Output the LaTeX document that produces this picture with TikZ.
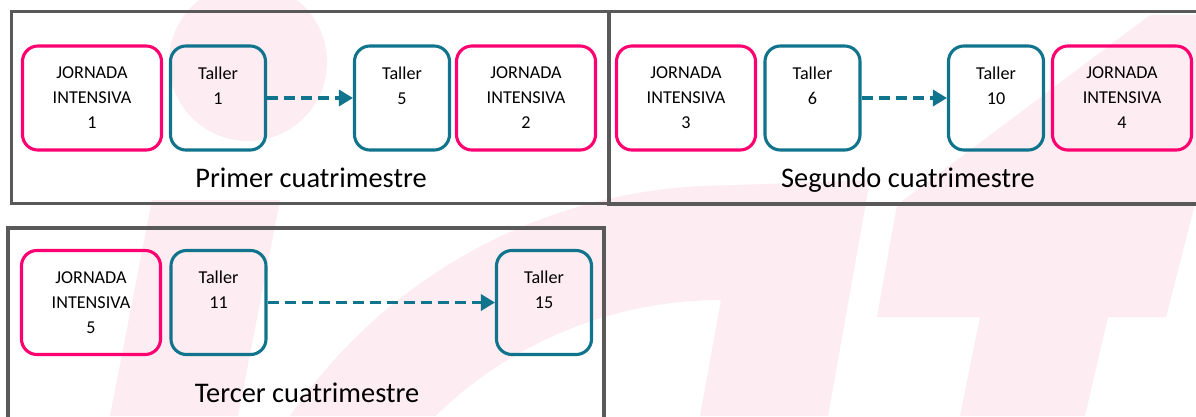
\documentclass[tikz,border=0pt]{standalone}
\usepackage{fontspec}
\setmainfont{Carlito}
\usepackage{tikz}
\usetikzlibrary{arrows.meta}
\definecolor{jornada}{RGB}{255,0,112}
\definecolor{taller}{RGB}{16,116,140}
\definecolor{marco}{RGB}{89,89,89}
\definecolor{marca}{RGB}{253,236,242}

\begin{document}
\begin{tikzpicture}[x=0.025cm,y=-0.025cm,
    jornada node/.style={draw=jornada,line width=2.2pt,rounded corners=11pt,minimum width=3.475cm,minimum height=2.6cm,inner sep=0pt,align=center,font=\fontsize{12.9}{17.8}\selectfont},
    taller node/.style={jornada node,draw=taller,minimum width=2.375cm}]
\tikzstyle{arrow} = [draw=taller,line width=2.2pt,dash pattern=on 7.8pt off 4.3pt,-{Triangle[length=10pt,width=11.5pt]}]
\tikzstyle{marco box} = [draw=marco,line width=2.8pt]
\tikzstyle{semester} = [anchor=base,font=\fontsize{20.2}{24}\selectfont]
\tikzstyle{watermark} = [fill=marca]

\clip (0,0) rectangle (1196,416);
\fill[white] (0,0) rectangle (1196,416);

\fill[watermark] (248,62) circle [radius=79];
\fill[watermark] (152,200) -- (280,200) -- (238,416) -- (110,416) -- cycle;
\fill[watermark] (290,416) arc [start angle=214.4, end angle=270, radius=530] -- (870,180) -- (828,416) -- (700,416) -- (721,300) arc [start angle=270, end angle=225.8, radius=410] -- cycle;
\fill[watermark] (1150,15) -- (1196,15) -- (1196,200) -- (1166,317) -- (1108,317) -- (1085,416) -- (960,416) -- (980,317) -- (877,317) -- (897,205) -- cycle;

\draw[marco box] (11.5,11.5) rectangle (609,203.5);
\draw[marco box] (609,11.5) rectangle (1210,204);
\draw[marco box] (8,228) rectangle (604,425);

\node (j1) at (92,98) [jornada node] {JORNADA\\INTENSIVA\\1};
\node (t1) at (218,98) [taller node] {Taller\\1\\~};
\node (t5) at (402,98) [taller node] {Taller\\5\\~};
\node (j2) at (526,98) [jornada node] {JORNADA\\INTENSIVA\\2};
\node (p1) at (311,187) [semester] {Primer cuatrimestre};

\node (j3) at (686,98) [jornada node] {JORNADA\\INTENSIVA\\3};
\node (t6) at (812.5,98) [taller node] {Taller\\6\\~};
\node (t10) at (996,98) [taller node] {Taller\\10\\~};
\node (j4) at (1122,98) [jornada node] {JORNADA\\INTENSIVA\\4};
\node (p2) at (908,187) [semester] {Segundo cuatrimestre};

\node (j5) at (91,302.5) [jornada node] {JORNADA\\INTENSIVA\\5};
\node (t11) at (218.5,302.5) [taller node] {Taller\\11\\~};
\node (t15) at (544,302.5) [taller node] {Taller\\15\\~};
\node (p3) at (307,402) [semester] {Tercer cuatrimestre};

\draw[arrow] (t1) -- (t5);
\draw[arrow] (t6) -- (t10);
\draw[arrow] (t11) -- (t15);

\end{tikzpicture}
\end{document}
